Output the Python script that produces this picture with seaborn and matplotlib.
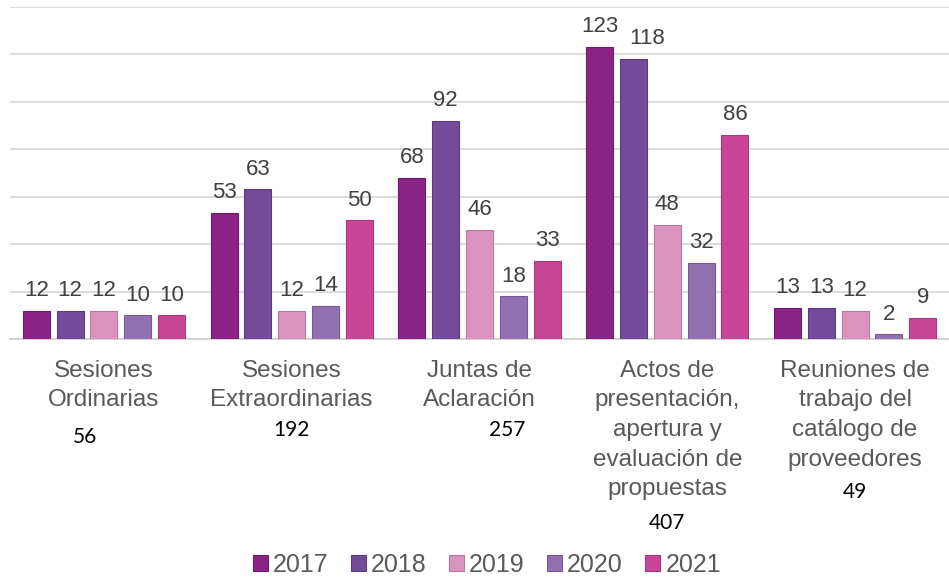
import matplotlib
matplotlib.use("Agg")
import matplotlib.pyplot as plt
import matplotlib.transforms as mtransforms
from matplotlib.patches import Patch
import seaborn as sns
import pandas as pd

categories = ["Sesiones\nOrdinarias", "Sesiones\nExtraordinarias", "Juntas de\nAclaración",
              "Actos de\npresentación,\napertura y\nevaluación de\npropuestas",
              "Reuniones de\ntrabajo del\ncatálogo de\nproveedores"]
years = ["2017", "2018", "2019", "2020", "2021"]
v2017 = [12, 53, 68, 123, 13]
v2018 = [12, 63, 92, 118, 13]
v2019 = [12, 12, 46, 48, 12]
v2020 = [10, 14, 18, 32, 2]
v2021 = [10, 50, 33, 86, 9]
totals = ["56", "192", "257", "407", "49"]
colors = ["#8C2387", "#744A9B", "#DA92BF", "#9270B2", "#C94697"]
edges = ["#6E1B6A", "#5C3A7C", "#B9789F", "#765A91", "#A8387D"]

rows = []
for y, vals in zip(years, [v2017, v2018, v2019, v2020, v2021]):
    for c, v in zip(categories, vals):
        rows.append({"cat": c, "year": y, "value": v})
df = pd.DataFrame(rows)

sns.set_theme(style="white")
plt.rcParams["font.family"] = ["Liberation Sans", "DejaVu Sans"]

fig = plt.figure(figsize=(9.49, 5.79), dpi=100)
ax = fig.add_axes([10/949, 240/579, 939/949, (339-6.5)/579])

sns.barplot(data=df, x="cat", y="value", hue="year", palette=colors,
            width=0.9, gap=0.2, ax=ax, legend=False, saturation=1, zorder=3)

for i, (cont, ec) in enumerate(zip(ax.containers, edges)):
    for p in cont:
        p.set_edgecolor(ec)
        p.set_linewidth(0.8)
    anns = ax.bar_label(cont, padding=7, fontsize=16, color="#404040")
    if i == 1:
        # 2018 label of "Actos" group sits slightly right, as in the reference
        anns[3].xyann = (10, 7)

ax.set_ylim(0, 140)
ax.set_yticks(range(0, 141, 20))
ax.yaxis.grid(True, color="#D9D9D9", linewidth=1.3, zorder=0)
ax.set_axisbelow(True)
ax.set_yticklabels([])
ax.tick_params(axis="y", length=0)
ax.tick_params(axis="x", length=0, pad=15)
ax.set_xlabel("")
ax.set_ylabel("")
ax.set_xlim(-0.5, 4.5)
for s in ["top", "right", "left"]:
    ax.spines[s].set_visible(False)
ax.spines["bottom"].set_color("#D0D0D0")
ax.spines["bottom"].set_linewidth(1.3)
ax.set_xticks(range(5))
ax.set_xticklabels(categories, fontsize=17.5, color="#595959", linespacing=1.45)

trans = mtransforms.blended_transform_factory(ax.transData, fig.transFigure)
tot_x = [-0.1, 1.0, 2.15, 3.0, 4.0]
tot_y = [437, 430, 430, 523, 492]
for t, x, y in zip(totals, tot_x, tot_y):
    ax.text(x, 1 - y/579, t, transform=trans, ha="center", va="center",
            fontsize=15, color="black", family=["Lato", "DejaVu Sans"])

handles = [Patch(facecolor=c, edgecolor=e, linewidth=0.8) for c, e in zip(colors, edges)]
fig.legend(handles, years, loc="center", bbox_to_anchor=(0.513, 1 - 565/579), ncol=5,
           frameon=False, fontsize=18, handlelength=0.6, handleheight=0.6,
           handletextpad=0.2, columnspacing=0.9, labelcolor="#595959")

fig.savefig("out.png", dpi=100)
